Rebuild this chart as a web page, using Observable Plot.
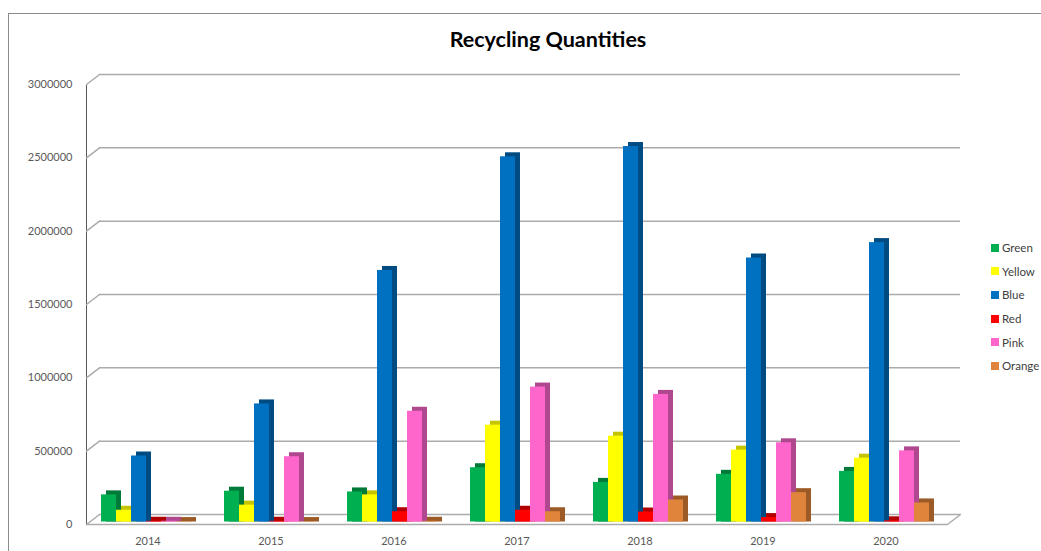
<!DOCTYPE html>
<html>
<head>
<meta charset="utf-8">
<script src="https://cdn.jsdelivr.net/npm/d3@7"></script>
<script src="https://cdn.jsdelivr.net/npm/@observablehq/plot@0.6"></script>
<style>
  body { margin: 0; background: #fff; }
  #wrap { position: relative; width: 1041px; height: 551px; overflow: hidden; font-family: Lato, "Open Sans", sans-serif; }
  #border { position: absolute; left: 8px; top: 13px; width: 1060px; height: 560px; border-top: 1.5px solid #8c8c8c; border-left: 1.5px solid #8c8c8c; }
  #title { position: absolute; left: 0; width: 1096px; top: 26px; text-align: center; font-weight: bold; font-size: 21.5px; color: #000; }
  #chart { position: absolute; left: 0; top: 60px; }
  #legend { position: absolute; left: 991px; top: 236px; font-size: 11.5px; color: #404040; }
  .item { height: 23.6px; display: flex; align-items: center; white-space: nowrap; }
  .sw { width: 8px; height: 8px; margin-right: 3px; flex: none; }
</style>
</head>
<body>
<div id="wrap">
  <div id="border"></div>
  <div id="title">Recycling Quantities</div>
  <div id="chart"></div>
  <div id="legend"></div>
</div>
<script>
// ---- data ----
const years = ["2014", "2015", "2016", "2017", "2018", "2019", "2020"];
const seriesNames = ["Green", "Yellow", "Blue", "Red", "Pink", "Orange"];
const green  = [185000, 210000, 205000, 370000, 270000, 325000, 345000];
const yellow = [80000, 115000, 185000, 660000, 585000, 490000, 435000];
const blue   = [450000, 805000, 1715000, 2490000, 2560000, 1800000, 1905000];
const red    = [5000, 5000, 70000, 80000, 68000, 30000, 8000];
const pink   = [5000, 445000, 755000, 920000, 870000, 540000, 485000];
const orange = [3000, 3000, 5000, 70000, 150000, 200000, 130000];
const yTicks = [0, 500000, 1000000, 1500000, 2000000, 2500000, 3000000];
const frontColors = ["#00b050", "#ffff00", "#0070c0", "#ff0000", "#ff66cc", "#e0843c"];
const sideColors  = ["#007a38", "#c4c400", "#004b82", "#b00000", "#b0488f", "#9c5a26"];

const valuesBySeries = [green, yellow, blue, red, pink, orange];
const table = [];
seriesNames.forEach((s, i) => {
  years.forEach((y, j) => table.push({year: y, series: s, value: valuesBySeries[i][j], idx: i}));
});

const grid = "#ababab";

const chart = Plot.plot({
  width: 1041,
  height: 491,
  marginLeft: 85,
  marginRight: 94,
  marginTop: 24,
  marginBottom: 27,
  style: {fontFamily: "Lato, 'Open Sans', sans-serif", fontSize: "11px", color: "#595959", background: "transparent"},
  fx: {domain: years, padding: 0, axis: "bottom", label: null, tickSize: 0, tickPadding: 13},
  x: {domain: seriesNames, paddingInner: 0, paddingOuter: 0.845, align: 0.46, axis: null},
  y: {domain: [0, 3000000], ticks: 6, tickFormat: d => String(d), tickSize: 0, tickPadding: 14, label: null, line: true},
  color: {type: "identity"},
  marks: [
    Plot.ruleY(yTicks, {y: d => d, dx: 13, dy: -10, stroke: grid, strokeWidth: 1.5}),
    Plot.vector(yTicks, {y: d => d, frameAnchor: "left", rotate: 52.4, length: 16.4, r: 0.01, anchor: "start", stroke: grid, strokeWidth: 1.5, facetAnchor: "left"}),
    Plot.vector([0], {y: d => d, frameAnchor: "right", rotate: 52.4, length: 16.4, r: 0.01, anchor: "start", stroke: grid, strokeWidth: 1.5, facetAnchor: "right"}),
    Plot.ruleY([0], {y: d => d, stroke: grid, strokeWidth: 1.5}),
    Plot.barY(table, {fx: "year", x: "series", y: "value", fill: d => sideColors[d.idx], dx: 5, dy: -6.5, insetBottom: -4}),
    Plot.barY(table, {fx: "year", x: "series", y: "value", fill: d => frontColors[d.idx], dy: -2.5})
  ]
});
document.getElementById("chart").appendChild(chart);

// legend
const legend = document.getElementById("legend");
seriesNames.forEach((s, i) => {
  const it = document.createElement("div");
  it.className = "item";
  const sw = document.createElement("span");
  sw.className = "sw";
  sw.style.background = frontColors[i];
  it.appendChild(sw);
  it.appendChild(document.createTextNode(s));
  legend.appendChild(it);
});
</script>
</body>
</html>
